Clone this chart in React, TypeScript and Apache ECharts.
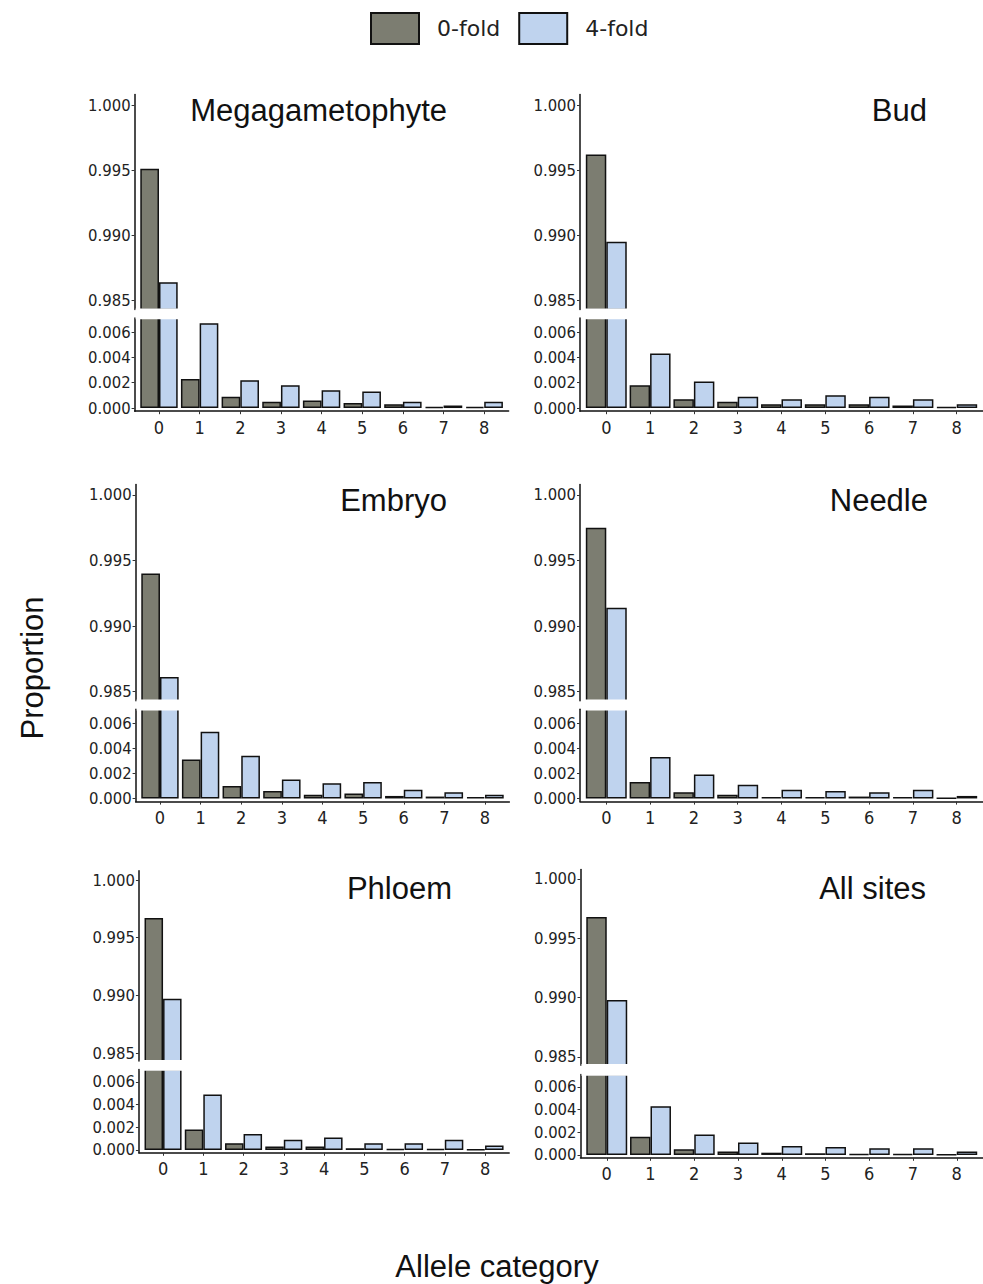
import React, { useEffect, useRef } from "react";
import * as echarts from "echarts";

// ---------- data ----------
const categories = [0, 1, 2, 3, 4, 5, 6, 7, 8];
const seriesNames = ["0-fold", "4-fold"];
const panelNames = ["Megagametophyte", "Bud", "Embryo", "Needle", "Phloem", "All sites"];

const megaZero = [0.9951, 0.0023, 0.0009, 0.0005, 0.0006, 0.0004, 0.0003, 0.0001, 0.0001];
const megaFour = [0.9864, 0.0067, 0.0022, 0.0018, 0.0014, 0.0013, 0.0005, 0.0002, 0.0005];
const budZero = [0.9962, 0.0018, 0.0007, 0.0005, 0.0003, 0.0003, 0.0003, 0.0002, 0.0001];
const budFour = [0.9895, 0.0043, 0.0021, 0.0009, 0.0007, 0.001, 0.0009, 0.0007, 0.0003];
const embryoZero = [0.994, 0.0031, 0.001, 0.0006, 0.0003, 0.0004, 0.0002, 0.00015, 0.0001];
const embryoFour = [0.9861, 0.0053, 0.0034, 0.0015, 0.0012, 0.0013, 0.0007, 0.0005, 0.0003];
const needleZero = [0.9975, 0.0013, 0.0005, 0.0003, 0.0001, 0.0001, 0.00015, 0.0001, 0.00005];
const needleFour = [0.9914, 0.0033, 0.0019, 0.0011, 0.0007, 0.0006, 0.0005, 0.0007, 0.0002];
const phloemZero = [0.9967, 0.0018, 0.0006, 0.0003, 0.0003, 0.00015, 0.0001, 0.0001, 0.00005];
const phloemFour = [0.9897, 0.0049, 0.0014, 0.0009, 0.0011, 0.0006, 0.0006, 0.0009, 0.0004];
const allZero = [0.9968, 0.0016, 0.0005, 0.0003, 0.0002, 0.00015, 0.0001, 0.0001, 0.00005];
const allFour = [0.9898, 0.0043, 0.0018, 0.0011, 0.0008, 0.0007, 0.0006, 0.0006, 0.0003];

const upperTicks = [0.985, 0.99, 0.995, 1.0];
const lowerTicks = [0, 0.002, 0.004, 0.006];
const upperRange = [0.9843, 1.0008];
const lowerRange = [-0.00025, 0.0071];

// ---------- layout / style ----------
const layout = [
  { left: 134.6, width: 374, upper: [94.6, 309.6], lower: [318.1, 411.2], tx: 447, ty: 110 },
  { left: 580, width: 409.4, upper: [94.6, 309.6], lower: [318.1, 411.2], tx: 927, ty: 110 },
  { left: 135.6, width: 373.8, upper: [484.5, 700.7], lower: [709.2, 801.6], tx: 447, ty: 500 },
  { left: 580, width: 409.4, upper: [484.5, 700.7], lower: [709.2, 801.6], tx: 928, ty: 500 },
  { left: 138.9, width: 370.3, upper: [870.8, 1061.1], lower: [1069.5, 1152.8], tx: 452, ty: 888 },
  { left: 580.5, width: 409.4, upper: [869.5, 1065.3], lower: [1074.5, 1157.8], tx: 926, ty: 888 },
];
const COLORS = ["#7c7d71", "#bfd3ee"];
const NARROW = "'Liberation Sans Narrow', 'DejaVu Sans Condensed', 'Arial Narrow', sans-serif";
const SANS = "'Liberation Sans', Arial, sans-serif";

function buildOption() {
  const panels = [
    [megaZero, megaFour],
    [budZero, budFour],
    [embryoZero, embryoFour],
    [needleZero, needleFour],
    [phloemZero, phloemFour],
    [allZero, allFour],
  ];
  const grid: any[] = [];
  const xAxis: any[] = [];
  const yAxis: any[] = [];
  const series: any[] = [];
  const graphic: any[] = [];

  panels.forEach((vals, i) => {
    const L = layout[i];
    const band = L.width / 9.2;
    const bw = band * 0.46;
    [0, 1].forEach((s) => {
      const idx = i * 2 + s;
      const [t, b] = s === 0 ? L.upper : L.lower;
      const ticks = s === 0 ? upperTicks : lowerTicks;
      const range = s === 0 ? upperRange : lowerRange;
      grid.push({ left: L.left, width: L.width, top: t, height: b - t });
      xAxis.push({
        type: "value",
        gridIndex: idx,
        min: -0.6,
        max: 8.6,
        show: s === 1,
        axisLine: { show: true, onZero: false, lineStyle: { color: "#111", width: 1.5 } },
        axisTick: { show: true, length: 3, customValues: categories, lineStyle: { color: "#333" } },
        axisLabel: {
          customValues: categories,
          formatter: (v: number) => String(v),
          fontSize: 18,
          fontFamily: NARROW,
          color: "#222",
          margin: 7,
        },
        splitLine: { show: false },
      });
      yAxis.push({
        type: "value",
        gridIndex: idx,
        min: range[0],
        max: range[1],
        axisLine: { show: true, onZero: false, lineStyle: { color: "#111", width: 1.5 } },
        axisTick: { show: true, length: 3, customValues: ticks, lineStyle: { color: "#333" } },
        axisLabel: {
          customValues: ticks,
          formatter: (v: number) => v.toFixed(3),
          fontSize: 16.5,
          fontFamily: NARROW,
          color: "#222",
          margin: 4,
        },
        splitLine: { show: false },
      });
      seriesNames.forEach((nm, k) => {
        series.push({
          type: "bar",
          name: nm,
          xAxisIndex: idx,
          yAxisIndex: idx,
          barWidth: bw,
          barGap: "0%",
          clip: true,
          data: vals[k].map((v, j) => [categories[j], v]),
          itemStyle: { color: COLORS[k], borderColor: "#111", borderWidth: 1.5 },
          emphasis: { disabled: true },
        });
      });
    });
    // white gap of the broken axis (hides the clipped bar edges)
    graphic.push({
      type: "rect",
      z: 100,
      shape: {
        x: L.left + 1,
        y: L.upper[1] - 1.2,
        width: L.width,
        height: L.lower[0] - L.upper[1] + 2.4,
      },
      style: { fill: "#fff" },
    });
    graphic.push({
      type: "text",
      x: L.tx,
      y: L.ty,
      style: {
        text: panelNames[i],
        fontSize: 31,
        fontFamily: SANS,
        fill: "#111",
        align: "right",
        verticalAlign: "middle",
      },
    });
  });

  graphic.push({
    type: "text",
    x: 32,
    y: 668,
    rotation: Math.PI / 2,
    style: { text: "Proportion", fontSize: 31, fontFamily: SANS, fill: "#111", align: "center", verticalAlign: "middle" },
  });
  graphic.push({
    type: "text",
    x: 497,
    y: 1266,
    style: { text: "Allele category", fontSize: 31, fontFamily: SANS, fill: "#111", align: "center", verticalAlign: "middle" },
  });

  return {
    animation: false,
    backgroundColor: "#fff",
    legend: {
      data: seriesNames,
      left: 370,
      top: 12,
      padding: 0,
      itemWidth: 48,
      itemHeight: 31,
      itemGap: 18,
      icon: "rect",
      itemStyle: { borderColor: "#111", borderWidth: 2 },
      textStyle: { fontSize: 22, fontFamily: "'DejaVu Sans', sans-serif", color: "#222", padding: [0, 0, 0, 13] },
      selectedMode: false,
    },
    grid,
    xAxis,
    yAxis,
    series,
    graphic,
  };
}

export default function App() {
  const ref = useRef<HTMLDivElement>(null);
  useEffect(() => {
    const chart = echarts.init(ref.current!, undefined, { renderer: "svg" });
    chart.setOption(buildOption() as any);
    return () => chart.dispose();
  }, []);
  return (
    <div
      ref={ref}
      style={{ position: "absolute", left: 0, top: 0, width: 983, height: 1284, background: "#fff" }}
    />
  );
}
